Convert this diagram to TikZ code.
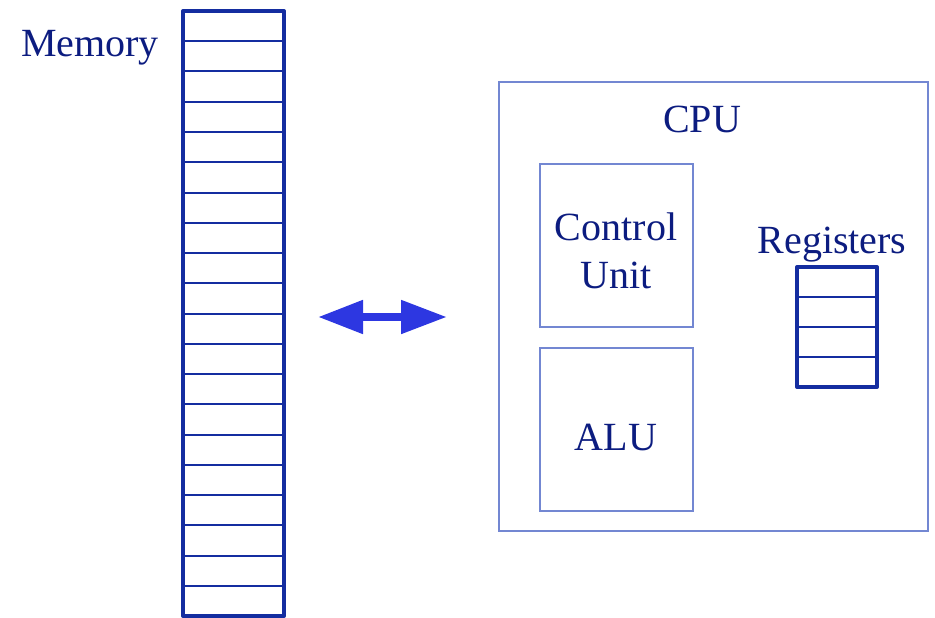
\documentclass[tikz,border=0pt]{standalone}
\usepackage{fontspec}
\setmainfont{Liberation Serif}
\usetikzlibrary{arrows.meta}

\definecolor{memblue}{RGB}{20,45,160}
\definecolor{boxblue}{RGB}{115,135,210}
\definecolor{txtblue}{RGB}{12,28,128}
\definecolor{arrblue}{RGB}{45,55,225}

\tikzset{
  lbl/.style={font=\fontsize{40}{48}\selectfont,text=txtblue,inner sep=0pt,align=center},
  cell/.style={draw=memblue,line width=2pt},
  frame/.style={draw=memblue,line width=4pt,line join=round},
  unitbox/.style={draw=boxblue,line width=1.6pt}
}

\begin{document}
\begin{tikzpicture}[x=1pt,y=-1pt]
\useasboundingbox (0,0) rectangle (935,618);

% memory column
\foreach \k in {1,...,19}
  \draw[cell] (183,11+30.25*\k) -- (284,11+30.25*\k);
\draw[frame] (183,11) rectangle (284,616);
\node[lbl,anchor=base] (mem) at (90,57) {Memory};

% cpu
\draw[unitbox] (499,82) rectangle (928,531);
\node[lbl,anchor=base] (cpu) at (702,132) {CPU};
\draw[unitbox] (540,164) rectangle (693,327);
\node[lbl] (cu) at (616,250.5) {Control\\Unit};
\draw[unitbox] (540,348) rectangle (693,511);
\node[lbl,anchor=base] (alu) at (616,450) {ALU};

% registers
\node[lbl,anchor=base] (reg) at (832,253) {Registers};
\foreach \k in {1,2,3}
  \draw[cell] (797,267+30*\k) -- (877,267+30*\k);
\draw[frame] (797,267) rectangle (877,387);

% bus
\coordinate (busL) at (318,317);
\coordinate (busR) at (447,317);
\draw[arrblue,line width=8pt,{Triangle[length=45pt,width=32pt]}-{Triangle[length=46pt,width=32pt]}] (busL) -- (busR);

\end{tikzpicture}
\end{document}
